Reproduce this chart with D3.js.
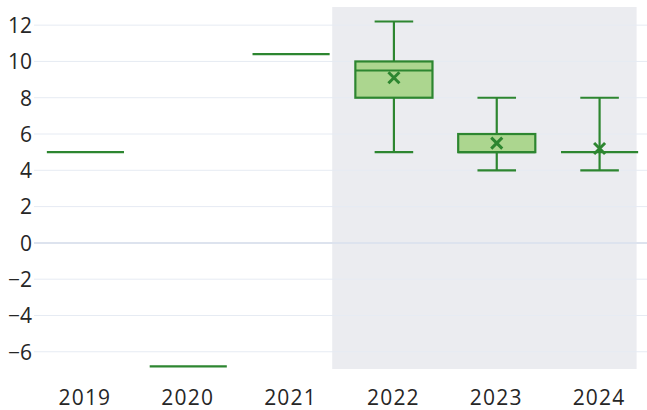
<!DOCTYPE html>
<html>
<head>
<meta charset="utf-8">
<script src="https://cdn.jsdelivr.net/npm/d3@7"></script>
<style>
  html, body { margin: 0; padding: 0; background: #fff; }
  svg { display: block; font-family: "Open Sans", "Noto Sans", sans-serif; }
</style>
</head>
<body>
<svg id="chart" width="647" height="410"></svg>
<script>
// Yearly distributions: five-number summaries plus mean
const years   = ["2019", "2020", "2021", "2022", "2023", "2024"];
const lowers  = [5,    -6.8, 10.4, 5,   4,   4];
const q1s     = [5,    -6.8, 10.4, 8,   5,   5];
const medians = [5,    -6.8, 10.4, 9.5, 5,   5];
const q3s     = [5,    -6.8, 10.4, 10,  6,   5];
const uppers  = [5,    -6.8, 10.4, 12.2, 8,  8];
const means   = [null, null, null, 9.1, 5.5, 5.2];
const yTicks  = [-6, -4, -2, 0, 2, 4, 6, 8, 10, 12];
// Highlighted span, in category positions
const shadeSpan = [2.4, 5.36];

const rows = years.map((yr, i) => ({
  year: yr, idx: i, lo: lowers[i], q1: q1s[i], med: medians[i],
  q3: q3s[i], hi: uppers[i], mean: means[i]
}));

const svg = d3.select("#chart");
const W = 647, H = 410;
const plotLeft = 34, plotTop = 7, plotBottom = 369;

const x = d3.scaleLinear().domain([-0.5, years.length - 0.5]).range([plotLeft, 651]);
const y = d3.scaleLinear().domain([-6.95, 13.0]).range([plotBottom, plotTop]);
const step = x(1) - x(0);
const boxW = step * 0.75;
const capW = boxW / 2;

const green = "#2d8630";
const fill = "#acd68f";
const textColor = "#262626";

// shaded span
svg.append("rect")
  .attr("x", x(shadeSpan[0])).attr("y", plotTop)
  .attr("width", x(shadeSpan[1]) - x(shadeSpan[0]))
  .attr("height", plotBottom - plotTop)
  .attr("fill", "#ebecf0");

// gridlines
svg.append("g").selectAll("line").data(yTicks).join("line")
  .attr("x1", plotLeft).attr("x2", W)
  .attr("y1", d => y(d)).attr("y2", d => y(d))
  .attr("stroke", d => d === 0 ? "#dde3ee" : "#e6ebf3")
  .attr("stroke-width", d => d === 0 ? 2 : 1);

// y axis labels
const yAxis = svg.append("g").attr("transform", "translate(32,0)")
  .call(d3.axisLeft(y).tickValues(yTicks).tickSize(0).tickPadding(0)
    .tickFormat(d => d < 0 ? "\u2212" + Math.abs(d) : d));
yAxis.select(".domain").remove();
yAxis.selectAll("text")
  .attr("font-size", 21).attr("fill", textColor).attr("dy", "0.35em")
  .attr("font-family", "'Open Sans', 'Noto Sans', sans-serif");

// x axis labels
const xAxis = svg.append("g").attr("transform", "translate(0,405)")
  .call(d3.axisBottom(x).tickValues(d3.range(years.length)).tickSize(0).tickPadding(0)
    .tickFormat(i => years[i]));
xAxis.select(".domain").remove();
xAxis.selectAll("text")
  .attr("font-size", 21).attr("fill", textColor).attr("dy", 0).attr("y", 0)
  .attr("letter-spacing", "1.2px").attr("dx", -1)
  .attr("font-family", "'Open Sans', 'Noto Sans', sans-serif");

// boxes
const g = svg.append("g").attr("fill", "none").attr("stroke", green).attr("stroke-width", 2.2);
const box = g.selectAll("g.box").data(rows).join("g").attr("class", "box");

// whiskers
box.filter(d => d.hi > d.q3).append("line")
  .attr("x1", d => x(d.idx)).attr("x2", d => x(d.idx))
  .attr("y1", d => y(d.hi)).attr("y2", d => y(d.q3));
box.filter(d => d.lo < d.q1).append("line")
  .attr("x1", d => x(d.idx)).attr("x2", d => x(d.idx))
  .attr("y1", d => y(d.lo)).attr("y2", d => y(d.q1));
box.filter(d => d.hi > d.q3).append("line")
  .attr("x1", d => x(d.idx) - capW / 2).attr("x2", d => x(d.idx) + capW / 2)
  .attr("y1", d => y(d.hi)).attr("y2", d => y(d.hi));
box.filter(d => d.lo < d.q1).append("line")
  .attr("x1", d => x(d.idx) - capW / 2).attr("x2", d => x(d.idx) + capW / 2)
  .attr("y1", d => y(d.lo)).attr("y2", d => y(d.lo));

// box body
box.filter(d => d.q3 > d.q1).append("rect")
  .attr("x", d => x(d.idx) - boxW / 2).attr("width", boxW)
  .attr("y", d => y(d.q3)).attr("height", d => y(d.q1) - y(d.q3))
  .attr("fill", fill);

// median
box.append("line")
  .attr("x1", d => x(d.idx) - boxW / 2).attr("x2", d => x(d.idx) + boxW / 2)
  .attr("y1", d => y(d.med)).attr("y2", d => y(d.med));

// mean markers
const ms = 5.5;
box.filter(d => d.mean != null).append("path")
  .attr("d", d => {
    const cx = x(d.idx), cy = y(d.mean);
    return `M${cx - ms},${cy - ms}L${cx + ms},${cy + ms}M${cx - ms},${cy + ms}L${cx + ms},${cy - ms}`;
  })
  .attr("stroke-width", 3);
</script>
</body>
</html>
